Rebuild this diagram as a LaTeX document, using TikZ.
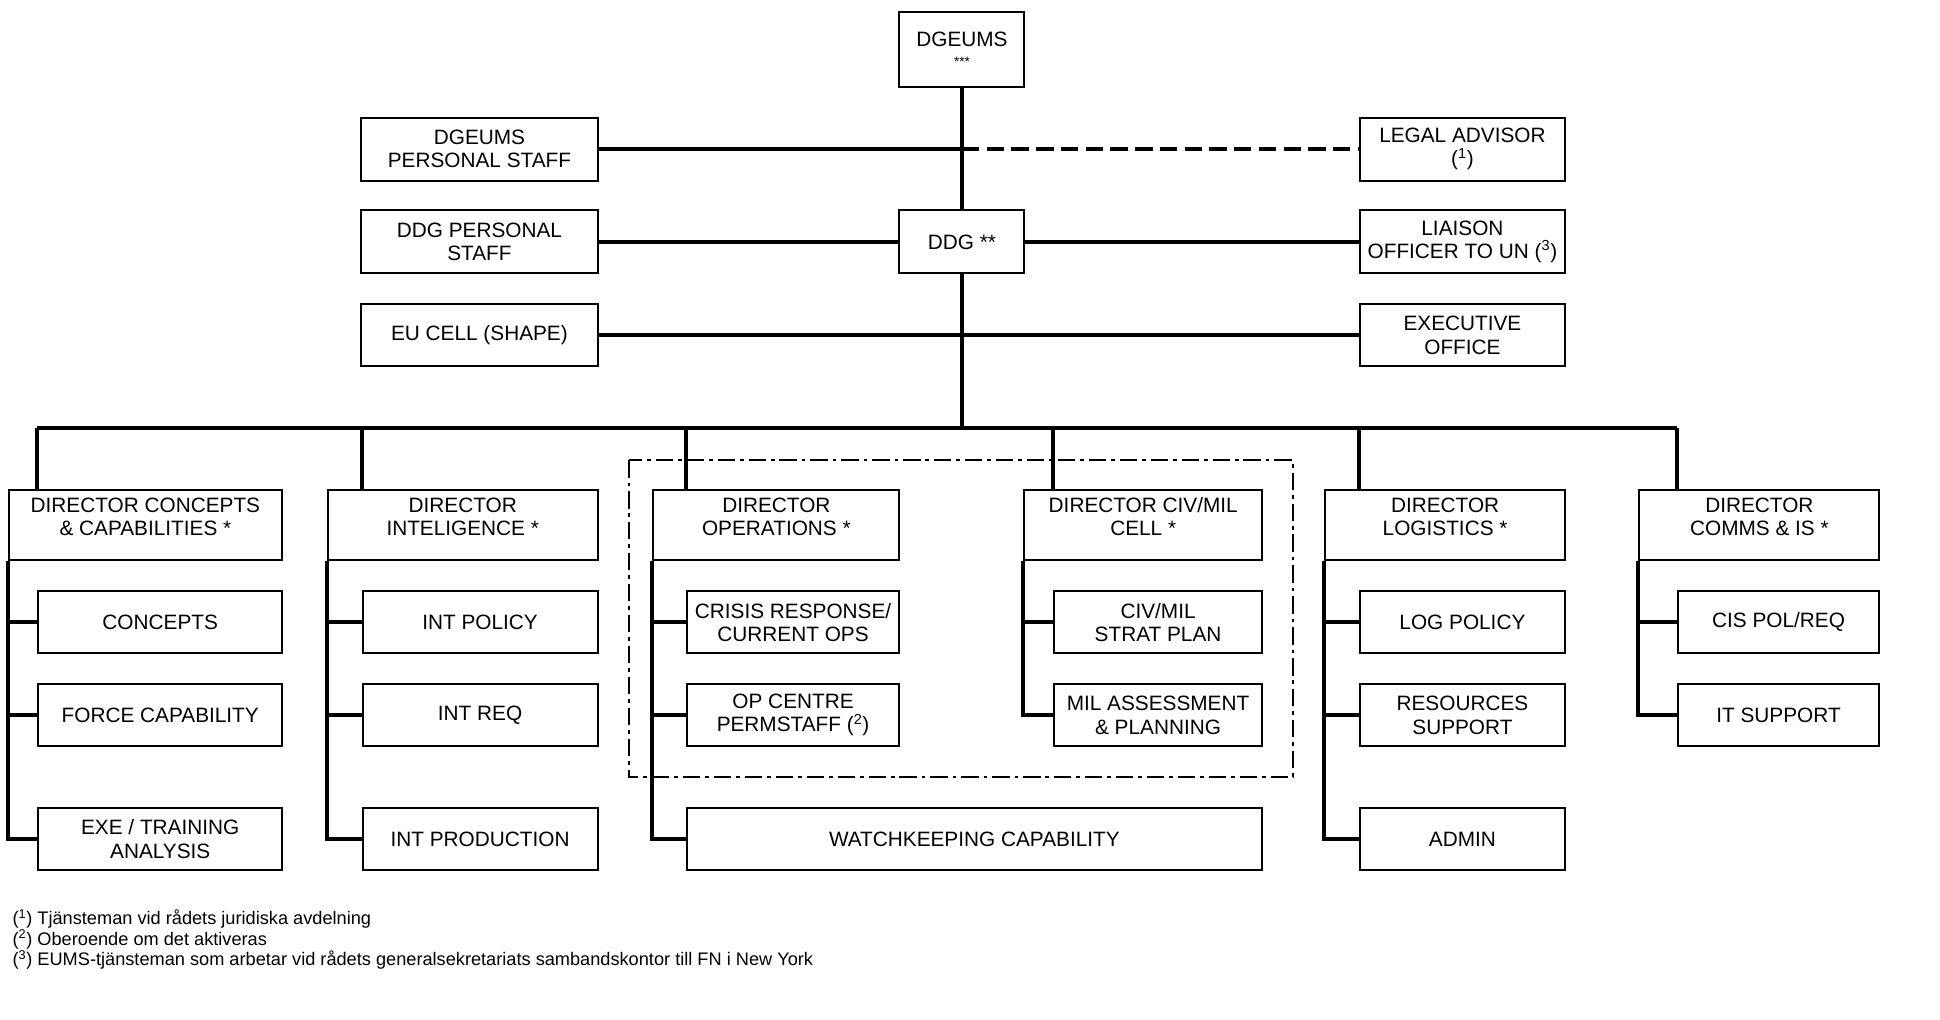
\documentclass[tikz,border=0pt]{standalone}
\usepackage{fontspec}
\setmainfont{Liberation Sans}
\newcommand{\bxfont}{\fontsize{16.8}{19}\selectfont}
\newcommand{\ftfont}{\fontsize{14.7}{16.5}\selectfont}
\newcommand{\fnm}[1]{(\textsuperscript{#1})}
\begin{document}
\begin{tikzpicture}[x=1pt,y=-1pt,
  box/.style={draw, line width=1.6pt, align=center, inner sep=0pt, font=\bxfont},
  dirbox/.style={box, minimum height=57pt, text depth=14pt},
  subbox/.style={box, minimum height=50pt},
  conn/.style={line width=3.2pt},
  dashconn/.style={line width=3.2pt, dash pattern=on 14pt off 6pt},
  dashdotframe/.style={line width=1.6pt, dash pattern=on 14pt off 4pt on 3pt off 4pt}]
\useasboundingbox (0,0) rectangle (1568,824);

% top part
\node[box, minimum width=101pt, minimum height=60pt] (dgeums) at (777.5,40) {DGEUMS\\[-3pt]{\fontsize{11}{11}\selectfont ***}};
\node[box, minimum width=191pt, minimum height=51pt] (dps) at (387.5,120.5) {DGEUMS\\PERSONAL STAFF};
\node[box, minimum width=166pt, minimum height=51pt] (legal) at (1182,120.5) {LEGAL ADVISOR\\\fnm{1}};
\node[box, minimum width=191pt, minimum height=51pt] (ddgps) at (387.5,195.5) {DDG PERSONAL\\STAFF};
\node[box, minimum width=101pt, minimum height=51pt] (ddg) at (777.5,195.5) {DDG **};
\node[box, minimum width=166pt, minimum height=51pt] (liaison) at (1182,195.5) {LIAISON\\OFFICER TO UN \fnm{3}};
\node[box, minimum width=191pt, minimum height=50pt] (eucell) at (387.5,271) {EU CELL (SHAPE)};
\node[box, minimum width=166pt, minimum height=50pt] (exec) at (1182,271) {EXECUTIVE\\OFFICE};

% directors
\node[dirbox, minimum width=221pt] (dcc) at (117.5,424.5) {DIRECTOR CONCEPTS\\\& CAPABILITIES *};
\node[dirbox, minimum width=218pt] (dint) at (374,424.5) {DIRECTOR\\INTELIGENCE *};
\node[dirbox, minimum width=199pt] (dops) at (627.5,424.5) {DIRECTOR\\OPERATIONS *};
\node[dirbox, minimum width=192pt] (dcm) at (924,424.5) {DIRECTOR CIV/MIL\\CELL *};
\node[dirbox, minimum width=194pt] (dlog) at (1168,424.5) {DIRECTOR\\LOGISTICS *};
\node[dirbox, minimum width=194pt] (dcom) at (1422,424.5) {DIRECTOR\\COMMS \& IS *};

% sub units
\node[subbox, minimum width=197pt] (concepts) at (129.5,503) {CONCEPTS};
\node[subbox, minimum width=197pt] (forcecap) at (129.5,578) {FORCE CAPABILITY};
\node[subbox, minimum width=197pt] (exe) at (129.5,678) {EXE / TRAINING\\ANALYSIS};

\node[subbox, minimum width=190pt] (intpol) at (388,503) {INT POLICY};
\node[subbox, minimum width=190pt] (intreq) at (388,578) {INT REQ};
\node[subbox, minimum width=190pt] (intprod) at (388,678) {INT PRODUCTION};

\node[subbox, minimum width=172pt] (crisis) at (641,503) {CRISIS RESPONSE/\\CURRENT OPS};
\node[subbox, minimum width=172pt] (opcentre) at (641,578) {OP CENTRE\\PERMSTAFF \fnm{2}};
\node[subbox, minimum width=465pt] (watch) at (787.5,678) {WATCHKEEPING CAPABILITY};

\node[subbox, minimum width=168pt] (strat) at (936,503) {CIV/MIL\\STRAT PLAN};
\node[subbox, minimum width=168pt] (milass) at (936,578) {MIL ASSESSMENT\\\& PLANNING};

\node[subbox, minimum width=166pt] (logpol) at (1182,503) {LOG POLICY};
\node[subbox, minimum width=166pt] (ressup) at (1182,578) {RESOURCES\\SUPPORT};
\node[subbox, minimum width=166pt] (admin) at (1182,678) {ADMIN};

\node[subbox, minimum width=163pt] (cispol) at (1437.5,503) {CIS POL/REQ};
\node[subbox, minimum width=163pt] (itsup) at (1437.5,578) {IT SUPPORT};

% trunk and staff lines
\coordinate (bus) at (777.5,346);
\draw[conn] (dgeums.south) -- (ddg.north);
\draw[conn] (ddg.south) -- (bus);
\draw[conn] (dps.east) -- (dps.east -| dgeums.south);
\draw[dashconn] (dps.east -| dgeums.south) -- (legal.west);
\draw[conn] (ddgps.east) -- (ddg.west);
\draw[conn] (ddg.east) -- (liaison.west);
\draw[conn] (eucell.east) -- (exec.west);

% bus and drops
\draw[conn] (concepts.west |- bus) -- (cispol.west |- bus);
\foreach \s/\d in {concepts/dcc, intpol/dint, crisis/dops, strat/dcm, logpol/dlog, cispol/dcom}
  \draw[conn] (\s.west |- bus) -- (\s.west |- \d.north);

% spines
\draw[conn] (dcc.south west) |- (exe.west);
\draw[conn] (dcc.south west |- concepts.west) -- (concepts.west);
\draw[conn] (dcc.south west |- forcecap.west) -- (forcecap.west);

\draw[conn] (dint.south west) |- (intprod.west);
\draw[conn] (dint.south west |- intpol.west) -- (intpol.west);
\draw[conn] (dint.south west |- intreq.west) -- (intreq.west);

\draw[conn] (dops.south west) |- (watch.west);
\draw[conn] (dops.south west |- crisis.west) -- (crisis.west);
\draw[conn] (dops.south west |- opcentre.west) -- (opcentre.west);

\draw[conn] (dcm.south west) |- (milass.west);
\draw[conn] (dcm.south west |- strat.west) -- (strat.west);

\draw[conn] (dlog.south west) |- (admin.west);
\draw[conn] (dlog.south west |- logpol.west) -- (logpol.west);
\draw[conn] (dlog.south west |- ressup.west) -- (ressup.west);

\draw[conn] (dcom.south west) |- (itsup.west);
\draw[conn] (dcom.south west |- cispol.west) -- (cispol.west);

% dash-dot frame
\draw[dashdotframe] (508,372) rectangle (1045,628);

% footnotes
\node[anchor=north west, align=left, inner sep=0pt, font=\ftfont] (notes) at (10,735)
  {\fnm{1} Tjänsteman vid rådets juridiska avdelning\\
   \fnm{2} Oberoende om det aktiveras\\
   \fnm{3} EUMS-tjänsteman som arbetar vid rådets generalsekretariats sambandskontor till FN i New York};
\end{tikzpicture}
\end{document}
